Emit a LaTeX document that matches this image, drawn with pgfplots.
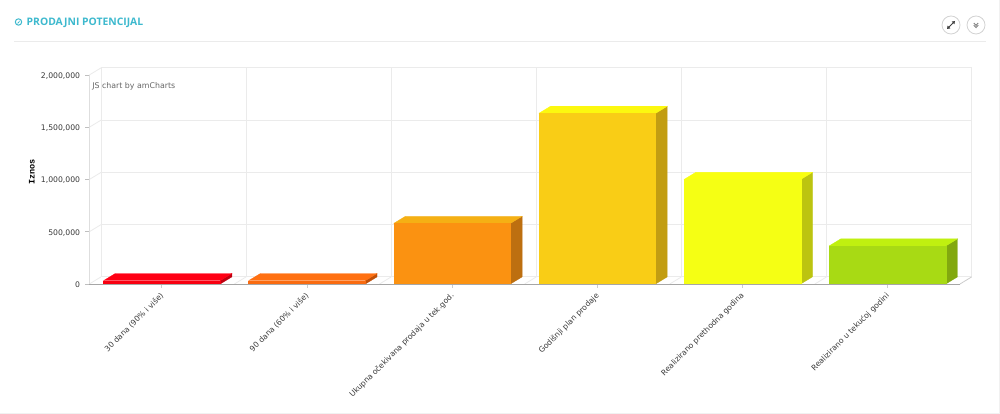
\documentclass[border=0pt]{standalone}
\usepackage{pgfplots}
\usepackage{fontspec}
\pgfplotsset{compat=1.18}
\setmainfont{DejaVu Sans}
\newfontfamily\opensans{Open Sans}
\newfontfamily\monob{Liberation Mono}
\definecolor{gridc}{HTML}{EBEBEB}
\definecolor{teal1}{HTML}{3DB9CE}
\definecolor{txt}{HTML}{3A3A3A}
\definecolor{f1}{HTML}{F80010}\definecolor{t1}{HTML}{FF0014}\definecolor{s1}{HTML}{C00010}
\definecolor{f2}{HTML}{F96B10}\definecolor{t2}{HTML}{FF7012}\definecolor{s2}{HTML}{C05008}
\definecolor{f3}{HTML}{FB9211}\definecolor{t3}{HTML}{F5B014}\definecolor{s3}{HTML}{BD6F10}
\definecolor{f4}{HTML}{F9CD16}\definecolor{t4}{HTML}{FCF80F}\definecolor{s4}{HTML}{C29D12}
\definecolor{f5}{HTML}{F5FF14}\definecolor{t5}{HTML}{F9FF10}\definecolor{s5}{HTML}{BCC410}
\definecolor{f6}{HTML}{A8DA14}\definecolor{t6}{HTML}{C0F010}\definecolor{s6}{HTML}{82A80F}
\pgfplotsset{gl/.style={gridc,line width=0.8pt,forget plot},
 bar front/.style={ybar,bar width=116.7pt,draw=#1,line width=0.3pt,fill=#1,forget plot},
 face/.style={draw=#1,line width=0.3pt,fill=#1,forget plot}}
\begin{document}
\begin{tikzpicture}[x=1pt,y=1pt]
\useasboundingbox (0,0) rectangle (1000,414);
\fill[white] (0,0) rectangle (1000,414);
% header
\draw[gridc,line width=0.8pt] (14,373) -- (986,373);
\draw[gridc!70,line width=1pt] (999,0) -- (999,414);
\draw[gridc!70,line width=0.8pt] (0,0.5) -- (1000,0.5);
\draw[teal1,line width=1pt] (18.5,392) circle (3.2);
\fill[teal1] (17,390.5) -- (20,393.5) -- (18.8,390.9) -- cycle;
\node[anchor=west,text=teal1,inner sep=0pt,font=\opensans\bfseries\fontsize{10.35}{12}\selectfont] at (26.5,391.5) {PRODAJNI POTENCIJAL};
\draw[gray!35,line width=0.8pt,fill=white] (951,389) circle (9);
\draw[gray!35,line width=0.8pt,fill=white] (976,389) circle (9);
\draw[black!75,line width=0.9pt] (948.5,386.5) -- (953.5,391.5);
\fill[black!75] (947,385) -- (950.4,385.6) -- (947.6,388.4) -- cycle;
\fill[black!75] (955,393) -- (951.6,392.4) -- (954.4,389.6) -- cycle;
\draw[gray,line width=0.9pt] (973.8,391) -- (976,388.6) -- (978.2,391);
\draw[gray,line width=0.9pt] (973.8,388.8) -- (976,386.4) -- (978.2,388.8);
\node[anchor=south,rotate=90,inner sep=0pt,font=\monob\bfseries\fontsize{8.5}{10}\selectfont,text=black] at (35,242) {Iznos};
\begin{axis}[
  at={(89.3pt,130pt)}, anchor=south west,
  scale only axis, width=870.7pt, height=209pt,
  xmin=0, xmax=6, ymin=0, ymax=2000000,
  clip=false,
  axis x line*=bottom, axis y line*=left,
  x axis line style={draw=black!35,line width=0.9pt,-},
  y axis line style={draw=black!13,line width=1.5pt,-},
  xtick={0.5,1.5,2.5,3.5,4.5,5.5},
  xticklabels={30 dana (90\% i više),90 dana (60\% i više),Ukupna očekivana prodaja u tek.god.,Godišnji plan prodaje,Realizirano prethodna godina,Realizirano u tekućoj godini},
  ytick={0,500000,1000000,1500000,2000000},
  tick align=outside, major tick length=4pt,
  x tick style={draw=black!20,line width=0.8pt},
  y tick style={draw=black!25,line width=0.8pt},
  /pgf/number format/assume math mode=true,
  scaled y ticks=false,
  yticklabel style={/pgf/number format/fixed,/pgf/number format/1000 sep={,},font=\fontsize{7.7}{9}\selectfont,text=txt,inner sep=1pt,xshift=-4pt,yshift=-1pt},
  xticklabel style={rotate=45,anchor=north east,font=\fontsize{7.7}{9}\selectfont,text=txt,inner sep=0pt,xshift=-4pt,yshift=-1pt},
  axis on top=true,
]
% back wall grid
\addplot[gl] coordinates {(0.0806,68000)(6.0806,68000)};
\addplot[gl] coordinates {(0.0806,568000)(6.0806,568000)};
\addplot[gl] coordinates {(0.0806,1068000)(6.0806,1068000)};
\addplot[gl] coordinates {(0.0806,1568000)(6.0806,1568000)};
\addplot[gl] coordinates {(0.0806,2068000)(6.0806,2068000)};
\addplot[gl] coordinates {(0.0806,68000)(0.0806,2068000)};
\addplot[gl] coordinates {(1.0806,68000)(1.0806,2068000)};
\addplot[gl] coordinates {(2.0806,68000)(2.0806,2068000)};
\addplot[gl] coordinates {(3.0806,68000)(3.0806,2068000)};
\addplot[gl] coordinates {(4.0806,68000)(4.0806,2068000)};
\addplot[gl] coordinates {(5.0806,68000)(5.0806,2068000)};
\addplot[gl] coordinates {(6.0806,68000)(6.0806,2068000)};
% side wall and floor diagonals
\addplot[gl] coordinates {(0,0)(0.0806,68000)};
\addplot[gl] coordinates {(0,500000)(0.0806,568000)};
\addplot[gl] coordinates {(0,1000000)(0.0806,1068000)};
\addplot[gl] coordinates {(0,1500000)(0.0806,1568000)};
\addplot[gl] coordinates {(0,2000000)(0.0806,2068000)};
\addplot[gl] coordinates {(1,0)(1.0806,68000)};
\addplot[gl] coordinates {(2,0)(2.0806,68000)};
\addplot[gl] coordinates {(3,0)(3.0806,68000)};
\addplot[gl] coordinates {(4,0)(4.0806,68000)};
\addplot[gl] coordinates {(5,0)(5.0806,68000)};
\addplot[gl,draw=black!20] coordinates {(6,0)(6.0806,68000)};
% bar 1
\addplot[face=s1] coordinates {(0.902,0)(0.9826,68000)(0.9826,100000)(0.902,32000)};
\addplot[face=t1] coordinates {(0.098,32000)(0.1786,100000)(0.9826,100000)(0.902,32000)};
\addplot[bar front=f1] coordinates {(0.5,32000)};
% bar 2
\addplot[face=s2] coordinates {(1.902,0)(1.9826,68000)(1.9826,100000)(1.902,32000)};
\addplot[face=t2] coordinates {(1.098,32000)(1.1786,100000)(1.9826,100000)(1.902,32000)};
\addplot[bar front=f2] coordinates {(1.5,32000)};
% bar 3
\addplot[face=s3] coordinates {(2.902,0)(2.9826,68000)(2.9826,648000)(2.902,580000)};
\addplot[face=t3] coordinates {(2.098,580000)(2.1786,648000)(2.9826,648000)(2.902,580000)};
\addplot[bar front=f3] coordinates {(2.5,580000)};
% bar 4
\addplot[face=s4] coordinates {(3.902,0)(3.9826,68000)(3.9826,1701000)(3.902,1633000)};
\addplot[face=t4] coordinates {(3.098,1633000)(3.1786,1701000)(3.9826,1701000)(3.902,1633000)};
\addplot[bar front=f4] coordinates {(3.5,1633000)};
% bar 5
\addplot[face=s5] coordinates {(4.902,0)(4.9826,68000)(4.9826,1068000)(4.902,1000000)};
\addplot[face=t5] coordinates {(4.098,1000000)(4.1786,1068000)(4.9826,1068000)(4.902,1000000)};
\addplot[bar front=f5] coordinates {(4.5,1000000)};
% bar 6
\addplot[face=s6] coordinates {(5.902,0)(5.9826,68000)(5.9826,432000)(5.902,364000)};
\addplot[face=t6] coordinates {(5.098,364000)(5.1786,432000)(5.9826,432000)(5.902,364000)};
\addplot[bar front=f6] coordinates {(5.5,364000)};
\node[anchor=west,inner sep=0pt,text=black!60,font=\fontsize{7.85}{9}\selectfont] at (axis cs:0.0193,1895000) {JS chart by amCharts};
\end{axis}
\end{tikzpicture}
\end{document}
